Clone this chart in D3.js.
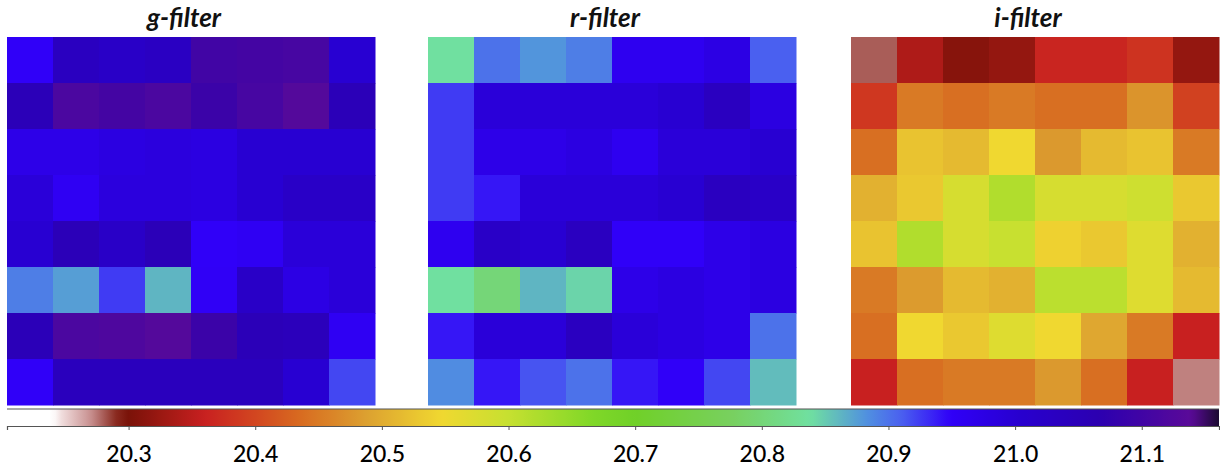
<!DOCTYPE html>
<html>
<head>
<meta charset="utf-8">
<script src="https://cdn.jsdelivr.net/npm/d3@7"></script>
<style>
  html, body { margin: 0; padding: 0; background: #fff; }
  svg { display: block; }
</style>
</head>
<body>
<svg width="1220" height="469"></svg>
<script>
// magnitude maps, 8x8, rows top to bottom
const gFilter = [
    [20.949, 21.035, 21.02, 21.03, 21.10, 21.105, 21.11, 21.00],
    [21.05, 21.115, 21.105, 21.115, 21.09, 21.11, 21.13, 21.05],
    [20.97, 20.97, 20.98, 20.985, 20.98, 21.00, 21.00, 21.00],
    [20.99, 20.955, 20.985, 20.985, 20.98, 21.00, 21.02, 21.02],
    [21.00, 21.05, 21.02, 21.05, 20.949, 20.955, 20.99, 20.99],
    [20.893, 20.875, 20.925, 20.862, 20.952, 21.02, 20.975, 20.99],
    [21.05, 21.115, 21.12, 21.13, 21.09, 21.05, 21.045, 20.955],
    [20.949, 21.04, 21.04, 21.04, 21.04, 21.04, 21.00, 20.92]
];
const rFilter = [
    [20.838, 20.90, 20.88, 20.893, 20.96, 20.96, 20.975, 20.91],
    [20.925, 20.99, 20.99, 20.99, 20.99, 21.00, 21.035, 20.98],
    [20.925, 20.97, 20.97, 20.98, 20.96, 20.99, 20.99, 21.00],
    [20.925, 20.94, 20.99, 20.99, 20.99, 21.00, 21.035, 21.02],
    [20.96, 21.02, 21.00, 21.035, 20.949, 20.949, 20.97, 20.98],
    [20.838, 20.80, 20.862, 20.845, 20.97, 20.98, 20.97, 20.98],
    [20.94, 20.99, 20.99, 21.035, 20.99, 20.98, 20.97, 20.90],
    [20.885, 20.94, 20.915, 20.90, 20.94, 20.949, 20.92, 20.858]
];
const iFilter = [
    [20.28, 20.34, 20.31, 20.32, 20.365, 20.365, 20.38, 20.32],
    [20.385, 20.45, 20.44, 20.45, 20.44, 20.44, 20.475, 20.395],
    [20.44, 20.525, 20.515, 20.547, 20.48, 20.515, 20.525, 20.45],
    [20.505, 20.53, 20.58, 20.62, 20.58, 20.58, 20.59, 20.53],
    [20.525, 20.62, 20.58, 20.598, 20.54, 20.53, 20.57, 20.505],
    [20.45, 20.482, 20.515, 20.505, 20.61, 20.61, 20.57, 20.515],
    [20.44, 20.547, 20.53, 20.57, 20.547, 20.495, 20.45, 20.36],
    [20.36, 20.44, 20.45, 20.45, 20.48, 20.44, 20.36, 20.273]
];
const panelTitles = ["g-filter", "r-filter", "i-filter"];
const panelData = [gFilter, rFilter, iFilter];

// colour map stops (value -> colour)
const colorStops = [20.204, 20.241, 20.245, 20.27, 20.29, 20.30, 20.36, 20.39, 20.435, 20.487,
    20.547, 20.598, 20.666, 20.70, 20.777, 20.838, 20.883, 20.91, 20.949, 21.002, 21.067, 21.139, 21.161];
const colorHexes = ["#ffffff", "#ffffff", "#f4e4e4", "#c89090", "#8a2a20", "#7a1208", "#c82020", "#d03c20",
    "#d86a20", "#dca030", "#f0d830", "#c8e030", "#80d828", "#70d028", "#78d060", "#70e0a0", "#5090e0",
    "#4a60f0", "#3000f8", "#2800d0", "#2c00b0", "#5a0a98", "#1a0a30"];
const tickValues = [20.3, 20.4, 20.5, 20.6, 20.7, 20.8, 20.9, 21.0, 21.1];

const svg = d3.select("svg");
const color = d3.scaleLinear().domain(colorStops).range(colorHexes).interpolate(d3.interpolateRgb);

const panelLeft = [7, 428, 851];
const panelSize = 368;
const panelTop = 37;

panelData.forEach((grid, p) => {
    const x = d3.scaleBand().domain(d3.range(8)).range([panelLeft[p], panelLeft[p] + panelSize]);
    const y = d3.scaleBand().domain(d3.range(8)).range([panelTop, panelTop + panelSize]);
    const cells = grid.flatMap((row, r) => row.map((v, c) => ({ r, c, v })));

    const g = svg.append("g");
    g.selectAll("rect")
        .data(cells)
        .join("rect")
        .attr("x", d => x(d.c))
        .attr("y", d => y(d.r))
        .attr("width", x.bandwidth() + 0.5)
        .attr("height", y.bandwidth() + 0.5)
        .attr("fill", d => color(d.v));

    g.append("text")
        .attr("x", panelLeft[p] + panelSize / 2 - 7)
        .attr("y", 27)
        .attr("text-anchor", "middle")
        .style("font-family", "Lato, 'Open Sans', sans-serif")
        .style("font-weight", "bold")
        .style("font-style", "italic")
        .style("font-size", "26px")
        .attr("fill", "#111")
        .text(panelTitles[p]);
});

// colour bar
const barX = d3.scaleLinear().domain([20.204, 21.161]).range([7, 1219]);
const barTop = 409, barBottom = 426;

const grad = svg.append("defs").append("linearGradient")
    .attr("id", "cbar")
    .attr("gradientUnits", "userSpaceOnUse")
    .attr("x1", barX.range()[0]).attr("x2", barX.range()[1])
    .attr("y1", 0).attr("y2", 0);
grad.selectAll("stop")
    .data(d3.range(0, 1.0001, 0.005))
    .join("stop")
    .attr("offset", d => d)
    .attr("stop-color", d => color(barX.domain()[0] + d * (barX.domain()[1] - barX.domain()[0])));

svg.append("rect")
    .attr("x", barX.range()[0])
    .attr("y", barTop)
    .attr("width", barX.range()[1] - barX.range()[0])
    .attr("height", barBottom - barTop)
    .attr("fill", "url(#cbar)");

svg.append("line")
    .attr("x1", barX.range()[0]).attr("x2", barX.range()[1])
    .attr("y1", barTop).attr("y2", barTop)
    .attr("stroke", "#555").attr("stroke-width", 1.2);

const axis = d3.axisBottom(barX)
    .tickValues(tickValues)
    .tickSize(4)
    .tickPadding(16)
    .tickFormat(d3.format(".1f"));

const ax = svg.append("g")
    .attr("transform", `translate(0,${barBottom})`)
    .call(axis);
ax.select(".domain").attr("stroke", "#555").attr("stroke-width", 1.2);
ax.selectAll(".tick line").attr("stroke", "#555");
ax.selectAll(".tick text")
    .style("font-family", "Lato, 'Open Sans', sans-serif")
    .style("font-size", "23px")
    .style("font-weight", "500")
    .attr("fill", "#000");
</script>
</body>
</html>
